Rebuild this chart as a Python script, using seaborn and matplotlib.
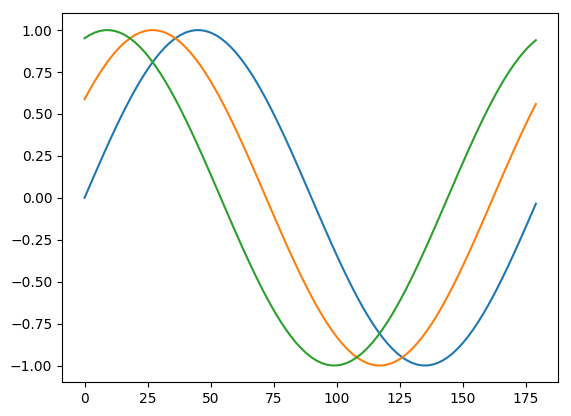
import matplotlib
matplotlib.use("Agg")
import matplotlib.pyplot as plt
import seaborn as sns
import pandas as pd

x_vals = list(range(0, 180, 2)) + [179]

blue_vals = [
    0.0, 0.0698, 0.1392, 0.2079, 0.2756, 0.3420, 0.4067, 0.4695, 0.5299, 0.5878,
    0.6428, 0.6947, 0.7431, 0.7880, 0.8290, 0.8660, 0.8988, 0.9272, 0.9511, 0.9703,
    0.9848, 0.9945, 0.9994, 0.9994, 0.9945, 0.9848, 0.9703, 0.9511, 0.9272, 0.8988,
    0.8660, 0.8290, 0.7880, 0.7431, 0.6947, 0.6428, 0.5878, 0.5299, 0.4695, 0.4067,
    0.3420, 0.2756, 0.2079, 0.1392, 0.0698,
    0.0, -0.0698, -0.1392, -0.2079, -0.2756, -0.3420, -0.4067, -0.4695, -0.5299, -0.5878,
    -0.6428, -0.6947, -0.7431, -0.7880, -0.8290, -0.8660, -0.8988, -0.9272, -0.9511, -0.9703,
    -0.9848, -0.9945, -0.9994, -0.9994, -0.9945, -0.9848, -0.9703, -0.9511, -0.9272, -0.8988,
    -0.8660, -0.8290, -0.7880, -0.7431, -0.6947, -0.6428, -0.5878, -0.5299, -0.4695, -0.4067,
    -0.3420, -0.2756, -0.2079, -0.1392, -0.0698,
    -0.0349,
]

orange_vals = [
    0.5878, 0.6428, 0.6947, 0.7431, 0.7880, 0.8290, 0.8660, 0.8988, 0.9272, 0.9511,
    0.9703, 0.9848, 0.9945, 0.9994, 0.9994, 0.9945, 0.9848, 0.9703, 0.9511, 0.9272,
    0.8988, 0.8660, 0.8290, 0.7880, 0.7431, 0.6947, 0.6428, 0.5878, 0.5299, 0.4695,
    0.4067, 0.3420, 0.2756, 0.2079, 0.1392, 0.0698,
    0.0, -0.0698, -0.1392, -0.2079, -0.2756, -0.3420, -0.4067, -0.4695, -0.5299, -0.5878,
    -0.6428, -0.6947, -0.7431, -0.7880, -0.8290, -0.8660, -0.8988, -0.9272, -0.9511, -0.9703,
    -0.9848, -0.9945, -0.9994, -0.9994, -0.9945, -0.9848, -0.9703, -0.9511, -0.9272, -0.8988,
    -0.8660, -0.8290, -0.7880, -0.7431, -0.6947, -0.6428, -0.5878, -0.5299, -0.4695, -0.4067,
    -0.3420, -0.2756, -0.2079, -0.1392, -0.0698,
    0.0, 0.0698, 0.1392, 0.2079, 0.2756, 0.3420, 0.4067, 0.4695, 0.5299,
    0.5592,
]

green_vals = [
    0.9511, 0.9703, 0.9848, 0.9945, 0.9994, 0.9994, 0.9945, 0.9848, 0.9703, 0.9511,
    0.9272, 0.8988, 0.8660, 0.8290, 0.7880, 0.7431, 0.6947, 0.6428, 0.5878, 0.5299,
    0.4695, 0.4067, 0.3420, 0.2756, 0.2079, 0.1392, 0.0698,
    0.0, -0.0698, -0.1392, -0.2079, -0.2756, -0.3420, -0.4067, -0.4695, -0.5299, -0.5878,
    -0.6428, -0.6947, -0.7431, -0.7880, -0.8290, -0.8660, -0.8988, -0.9272, -0.9511, -0.9703,
    -0.9848, -0.9945, -0.9994, -0.9994, -0.9945, -0.9848, -0.9703, -0.9511, -0.9272, -0.8988,
    -0.8660, -0.8290, -0.7880, -0.7431, -0.6947, -0.6428, -0.5878, -0.5299, -0.4695, -0.4067,
    -0.3420, -0.2756, -0.2079, -0.1392, -0.0698,
    0.0, 0.0698, 0.1392, 0.2079, 0.2756, 0.3420, 0.4067, 0.4695, 0.5299, 0.5878,
    0.6428, 0.6947, 0.7431, 0.7880, 0.8290, 0.8660, 0.8988, 0.9272,
    0.9397,
]

series = {"blue": blue_vals, "orange": orange_vals, "green": green_vals}
colors = {"blue": "#1f77b4", "orange": "#ff7f0e", "green": "#2ca02c"}

rows = []
for name, vals in series.items():
    for xv, yv in zip(x_vals, vals):
        rows.append({"x": xv, "y": yv, "series": name})
df = pd.DataFrame(rows)

fig = plt.figure(figsize=(5.71, 4.16), dpi=100)
ax = fig.add_axes([0.1086, 0.081, 0.978 - 0.1086, 0.968 - 0.081])
sns.lineplot(data=df, x="x", y="y", hue="series", palette=colors,
             legend=False, ax=ax, linewidth=1.5)
ax.set_xlabel("")
ax.set_ylabel("")
ax.set_xticks([0, 25, 50, 75, 100, 125, 150, 175])
ax.set_yticks([-1.0, -0.75, -0.5, -0.25, 0.0, 0.25, 0.5, 0.75, 1.0])
ax.set_yticklabels(["−1.00", "−0.75", "−0.50", "−0.25", "0.00", "0.25", "0.50", "0.75", "1.00"])
ax.set_xlim(-8.95, 187.95)
ax.set_ylim(-1.0999, 1.0999)
fig.savefig("out.png", dpi=100)
